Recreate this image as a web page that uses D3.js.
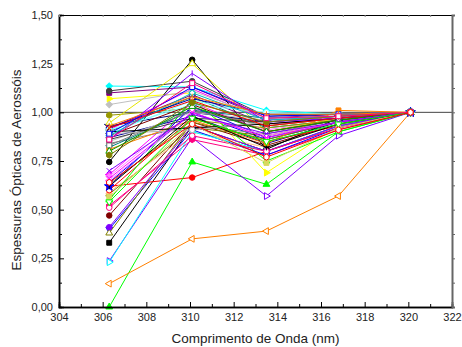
<!DOCTYPE html>
<html>
<head>
<meta charset="utf-8">
<script src="https://cdn.jsdelivr.net/npm/d3@7"></script>
<style>
  body { margin: 0; background: #fff; }
  svg { display: block; font-family: "Liberation Sans", Arial, sans-serif; }
</style>
</head>
<body>
<div id="chart"></div>
<script>
const W = 462, H = 347;

// wavelengths (nm) of the measurements
const wavelengths = [306.3, 310.1, 313.5, 316.8, 320.1];

const xTicks = [304, 306, 308, 310, 312, 314, 316, 318, 320, 322];
const yTicks = [0, 0.25, 0.5, 0.75, 1.0, 1.25, 1.5];

// one row per day: aerosol optical depth normalised at 320 nm
const seriesValues = [
  [0.33, 0.93, 0.80, 0.93, 1.00],
  [0.62, 0.665, 0.80, 0.92, 1.00],
  [0.00, 0.745, 0.63, 0.90, 1.00],
  [0.64, 1.00, 0.86, 0.95, 1.00],
  [1.135, 1.13, 1.01, 0.99, 1.00],
  [0.68, 1.05, 0.90, 0.96, 1.00],
  [1.07, 1.10, 0.69, 0.93, 1.00],
  [0.985, 1.02, 0.93, 0.97, 1.00],
  [0.93, 1.00, 0.95, 0.98, 1.00],
  [1.10, 1.13, 0.97, 0.99, 1.00],
  [0.47, 0.95, 0.83, 0.94, 1.00],
  [0.58, 0.92, 0.88, 0.95, 1.00],
  [0.90, 1.08, 0.92, 0.96, 1.00],
  [0.87, 0.98, 0.84, 0.95, 1.00],
  [0.12, 0.35, 0.39, 0.57, 1.00],
  [0.236, 0.87, 0.57, 0.88, 1.00],
  [0.52, 0.86, 0.78, 0.91, 1.00],
  [0.85, 1.00, 0.96, 0.98, 1.00],
  [0.84, 0.93, 0.89, 0.96, 1.00],
  [0.59, 0.90, 0.82, 0.94, 1.00],
  [0.89, 1.06, 0.99, 0.99, 1.00],
  [0.67, 1.02, 0.91, 0.96, 1.00],
  [1.11, 1.16, 0.98, 0.99, 1.00],
  [0.745, 1.27, 0.81, 0.97, 1.00],
  [0.60, 0.97, 0.85, 0.93, 1.00],
  [0.55, 1.066, 0.75, 0.90, 1.00],
  [0.40, 0.91, 0.78, 0.92, 1.00],
  [0.23, 0.90, 0.80, 0.93, 1.00],
  [0.91, 1.12, 0.96, 0.98, 1.00],
  [0.945, 1.25, 0.90, 0.97, 1.00],
  [0.63, 0.96, 0.92, 0.96, 1.00],
  [0.62, 1.03, 0.87, 0.95, 1.00],
  [0.92, 1.09, 0.94, 0.97, 1.00],
  [0.88, 1.04, 0.90, 0.96, 1.00],
  [0.38, 0.95, 0.86, 0.95, 1.00],
  [0.82, 1.01, 0.97, 0.98, 1.00],
  [0.92, 1.07, 0.99, 0.99, 1.00],
  [0.81, 0.96, 0.84, 1.01, 1.00],
  [0.41, 0.93, 0.80, 0.93, 1.00],
  [0.51, 0.88, 0.80, 0.92, 1.00],
  [1.04, 1.11, 0.97, 0.98, 1.00],
  [0.83, 1.01, 0.93, 0.97, 1.00],
  [0.565, 0.94, 0.74, 0.92, 1.00],
  [0.91, 1.04, 1.00, 0.99, 1.00],
  [0.65, 0.99, 0.88, 0.95, 1.00],
  [0.86, 0.97, 0.95, 0.98, 1.00],
  [0.90, 0.92, 0.94, 0.97, 1.00],
  [0.89, 0.91, 0.95, 0.98, 1.00],
  [0.86, 1.20, 0.95, 0.97, 1.00],
  [0.88, 1.10, 0.96, 0.98, 1.00],
  [0.92, 1.06, 0.93, 0.97, 1.00],
  [0.80, 1.03, 0.90, 0.96, 1.00],
  [0.66, 1.00, 0.87, 0.95, 1.00],
  [0.62, 0.98, 0.82, 0.94, 1.00],
  [0.89, 1.13, 0.98, 0.99, 1.00],
  [0.78, 1.05, 0.95, 0.98, 1.00],
  [0.70, 0.99, 0.89, 0.95, 1.00],
  [0.93, 1.08, 0.99, 0.99, 1.00],
  [0.54, 0.97, 0.85, 0.94, 1.00],
  [0.86, 1.15, 0.97, 0.98, 1.00],
  [0.64, 0.94, 0.77, 0.91, 1.00]
];

const seriesColors = [
  '#000000', '#ff0000', '#00ff00', '#0000ff', '#00ffff', '#ff00ff', '#ffff00', '#999900',
  '#000080', '#800080', '#800000', '#808000', '#008080', '#0000a0', '#ff8000', '#8000ff',
  '#ff0080', '#c0c0c0', '#808080', '#ffc080', '#80ffff', '#ff80ff', '#404040', '#000000',
  '#ff0000', '#00ff00', '#0000ff', '#00ffff', '#ff00ff', '#e6e600', '#999900', '#0000ff',
  '#800080', '#800000', '#808000', '#008080', '#0000a0', '#ff8000', '#8000ff', '#ff0080',
  '#c0c0c0', '#808080', '#d8d860', '#80ffff', '#ff80ff', '#404040', '#000000', '#b0b0b0',
  '#8000ff', '#00c0c0', '#ff0000', '#00a000', '#ff00ff', '#000000', '#0000ff', '#808000',
  '#8000ff', '#ff8000', '#00ff00', '#ff0080', '#ff0000'
];

// sq square, ci circle, tu/td/tl/tr triangles, di diamond, hx hexagon, st star,
// vb vertical bar, xm cross
const seriesSymbols = [
  'sq', 'ci', 'tu', 'td', 'di', 'tl', 'tr', 'hx', 'st', 'sq', 'ci', 'tu', 'td', 'di', 'tl', 'tr',
  'hx', 'sq', 'ci', 'tu', 'td', 'di', 'ci', 'ci', 'ci', 'tu', 'td', 'tr', 'sq', 'tu', 'hx', 'st',
  'sq', 'ci', 'tu', 'td', 'di', 'sq', 'ci', 'ci', 'di', 'sq', 'sq', 'ci', 'tl', 'sq', 'tu', 'ci',
  'vb', 'di', 'xm', 'tu', 'xm', 'vb', 'sq', 'hx', 'xm', 'vb', 'td', 'sq', 'hx'
];

const seriesOpen = [
  0, 0, 0, 0, 0, 0, 0, 0, 0, 0, 0, 0, 0, 0, 1, 1,
  0, 0, 0, 0, 0, 0, 0, 0, 1, 1, 1, 1, 1, 1, 1, 0,
  1, 1, 1, 1, 1, 0, 0, 1, 0, 1, 0, 1, 1, 0, 1, 1,
  0, 1, 0, 1, 0, 0, 1, 0, 0, 0, 1, 1, 1
];

const margin = { top: 15, right: 10, bottom: 40, left: 59 };
const plotW = W - margin.left - margin.right;
const plotH = H - margin.top - margin.bottom;

const svg = d3.select('#chart').append('svg')
  .attr('width', W)
  .attr('height', H);

const g = svg.append('g')
  .attr('transform', `translate(${margin.left},${margin.top})`);

const x = d3.scaleLinear().domain([304, 322]).range([0, plotW]);
const y = d3.scaleLinear().domain([0, 1.5]).range([plotH, 0]);

const ptFormat = d3.formatLocale({
  decimal: ',', thousands: '.', grouping: [3], currency: ['', '']
}).format('.2f');

// extra marker shapes, d3 has none of these
const symbolHexagon = {
  draw(ctx, size) {
    const r = Math.sqrt(size / (1.5 * Math.sqrt(3)));
    for (let i = 0; i < 6; i++) {
      const a = Math.PI / 6 + i * Math.PI / 3;
      if (i === 0) ctx.moveTo(r * Math.cos(a), r * Math.sin(a));
      else ctx.lineTo(r * Math.cos(a), r * Math.sin(a));
    }
    ctx.closePath();
  }
};
const symbolBar = {
  draw(ctx, size) {
    const r = Math.sqrt(size) / 2;
    ctx.moveTo(0, -r);
    ctx.lineTo(0, r);
  }
};
const symbolCross = {
  draw(ctx, size) {
    const r = Math.sqrt(size) / 2.4;
    ctx.moveTo(-r, -r);
    ctx.lineTo(r, r);
    ctx.moveTo(-r, r);
    ctx.lineTo(r, -r);
  }
};

const symbolDefs = {
  sq: { type: d3.symbolSquare, size: 24, rot: 0 },
  ci: { type: d3.symbolCircle, size: 24, rot: 0 },
  tu: { type: d3.symbolTriangle, size: 20, rot: 0 },
  td: { type: d3.symbolTriangle, size: 20, rot: 180 },
  tl: { type: d3.symbolTriangle, size: 20, rot: -90 },
  tr: { type: d3.symbolTriangle, size: 20, rot: 90 },
  di: { type: d3.symbolSquare, size: 20, rot: 45 },
  hx: { type: symbolHexagon, size: 24, rot: 0 },
  st: { type: d3.symbolStar, size: 28, rot: 0 },
  vb: { type: symbolBar, size: 36, rot: 0 },
  xm: { type: symbolCross, size: 36, rot: 0 }
};

// clip so nothing spills over the frame
g.append('defs').append('clipPath').attr('id', 'clip')
  .append('rect')
  .attr('x', -6).attr('y', -6)
  .attr('width', plotW + 12).attr('height', plotH + 12);

// reference line at 1,00
g.append('line')
  .attr('x1', 0).attr('x2', plotW)
  .attr('y1', y(1)).attr('y2', y(1))
  .attr('stroke', '#444')
  .attr('stroke-width', 1);

const lineGen = d3.line()
  .x((d, i) => x(wavelengths[i]))
  .y(d => y(d));

const marks = g.append('g').attr('clip-path', 'url(#clip)');

seriesValues.forEach((vals, s) => {
  const col = seriesColors[s];
  const sym = symbolDefs[seriesSymbols[s]];
  const open = seriesOpen[s] === 1;
  const sg = marks.append('g');

  sg.append('path')
    .datum(vals)
    .attr('fill', 'none')
    .attr('stroke', col)
    .attr('stroke-width', 1)
    .attr('d', lineGen);

  sg.selectAll('path.pt')
    .data(vals)
    .join('path')
    .attr('class', 'pt')
    .attr('transform', (d, i) => `translate(${x(wavelengths[i])},${y(d)}) rotate(${sym.rot})`)
    .attr('d', d3.symbol().type(sym.type).size(sym.size))
    .attr('fill', open ? '#fff' : col)
    .attr('stroke', col)
    .attr('stroke-width', 1);
});

// axes
const minorX = d3.range(305, 322, 2);
const minorY = d3.range(0.125, 1.5, 0.25);

const bottomAx = g.append('g')
  .attr('transform', `translate(0,${plotH})`)
  .call(d3.axisBottom(x).tickValues(xTicks).tickSize(-5).tickPadding(6.5).tickFormat(d3.format('d')));
g.append('g')
  .attr('transform', `translate(0,${plotH})`)
  .call(d3.axisBottom(x).tickValues(minorX).tickSize(-3).tickFormat(''));

const leftAx = g.append('g')
  .call(d3.axisLeft(y).tickValues(yTicks).tickSize(-5).tickPadding(6).tickFormat(ptFormat));
g.append('g')
  .call(d3.axisLeft(y).tickValues(minorY).tickSize(-3).tickFormat(''));

const topAx = g.append('g')
  .call(d3.axisTop(x).tickValues(d3.range(304, 323, 1)).tickSize(-2).tickFormat(''));

const rightAx = g.append('g')
  .attr('transform', `translate(${plotW},0)`)
  .call(d3.axisRight(y).tickValues(d3.range(0, 1.51, 0.125)).tickSize(3).tickFormat(''));

g.selectAll('.domain').attr('stroke', '#000').attr('stroke-width', 1.5);
g.selectAll('.tick line').attr('stroke', '#000');
g.selectAll('.tick text')
  .attr('fill', '#222')
  .style('font-size', '11px')
  .style('font-family', '"Liberation Sans", Arial, sans-serif');
topAx.select('.domain').attr('stroke-width', 1.2);
topAx.selectAll('.tick line').attr('stroke', '#888');
rightAx.select('.domain').attr('stroke', '#666').attr('stroke-width', 2);
rightAx.selectAll('.tick line').attr('stroke', '#666');

// titles
svg.append('text')
  .attr('x', margin.left + plotW / 2)
  .attr('y', 343)
  .attr('text-anchor', 'middle')
  .attr('fill', '#222')
  .style('font-size', '13.5px')
  .text('Comprimento de Onda (nm)');

svg.append('text')
  .attr('transform', 'translate(21,170) rotate(-90)')
  .attr('text-anchor', 'middle')
  .attr('fill', '#222')
  .style('font-size', '13.5px')
  .text('Espessuras Ópticas de Aerossóis');
</script>
</body>
</html>
